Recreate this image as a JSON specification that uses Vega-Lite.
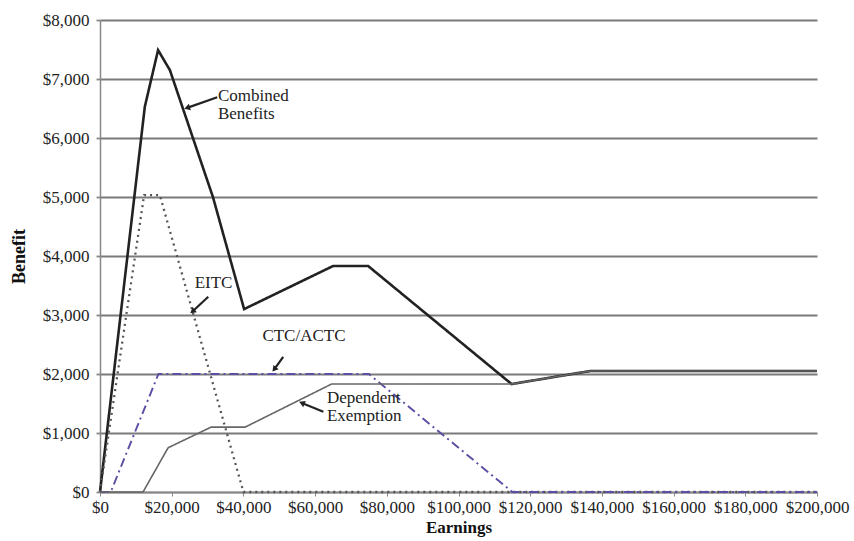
{
  "$schema": "https://vega.github.io/schema/vega-lite/v6.json",
  "autosize": "none",
  "width": 717,
  "height": 472,
  "padding": {"left": 100, "top": 20, "right": 37, "bottom": 49},
  "background": "white",
  "config": {
    "view": {"stroke": null},
    "font": "Liberation Serif",
    "axis": {"labelFont": "Liberation Serif", "titleFont": "Liberation Serif", "labelColor": "#222", "titleColor": "#111"}
  },
  "datasets": {
    "series": [
      {"series": "Combined Benefits", "earnings": 0, "benefit": 0},
      {"series": "Combined Benefits", "earnings": 12500, "benefit": 6530},
      {"series": "Combined Benefits", "earnings": 16200, "benefit": 7490},
      {"series": "Combined Benefits", "earnings": 19500, "benefit": 7150},
      {"series": "Combined Benefits", "earnings": 31500, "benefit": 5000},
      {"series": "Combined Benefits", "earnings": 40200, "benefit": 3100},
      {"series": "Combined Benefits", "earnings": 65000, "benefit": 3830},
      {"series": "Combined Benefits", "earnings": 74800, "benefit": 3830},
      {"series": "Combined Benefits", "earnings": 114800, "benefit": 1830},
      {"series": "Combined Benefits", "earnings": 136700, "benefit": 2050},
      {"series": "Combined Benefits", "earnings": 200000, "benefit": 2050},
      {"series": "EITC", "earnings": 0, "benefit": 0},
      {"series": "EITC", "earnings": 12300, "benefit": 5030},
      {"series": "EITC", "earnings": 16700, "benefit": 5030},
      {"series": "EITC", "earnings": 40000, "benefit": 0},
      {"series": "EITC", "earnings": 200000, "benefit": 0},
      {"series": "CTC/ACTC", "earnings": 0, "benefit": 0},
      {"series": "CTC/ACTC", "earnings": 3000, "benefit": 0},
      {"series": "CTC/ACTC", "earnings": 16300, "benefit": 2000},
      {"series": "CTC/ACTC", "earnings": 75000, "benefit": 2000},
      {"series": "CTC/ACTC", "earnings": 115000, "benefit": 0},
      {"series": "CTC/ACTC", "earnings": 200000, "benefit": 0},
      {"series": "Dependent Exemption", "earnings": 0, "benefit": 0},
      {"series": "Dependent Exemption", "earnings": 12000, "benefit": 0},
      {"series": "Dependent Exemption", "earnings": 19000, "benefit": 750},
      {"series": "Dependent Exemption", "earnings": 31000, "benefit": 1100},
      {"series": "Dependent Exemption", "earnings": 40500, "benefit": 1100},
      {"series": "Dependent Exemption", "earnings": 64600, "benefit": 1830},
      {"series": "Dependent Exemption", "earnings": 114800, "benefit": 1830},
      {"series": "Dependent Exemption", "earnings": 136700, "benefit": 2050},
      {"series": "Dependent Exemption", "earnings": 200000, "benefit": 2050}
    ],
    "notes": [
      {"label": "Combined", "earnings": 32900, "benefit": 6720},
      {"label": "Benefits", "earnings": 32900, "benefit": 6410},
      {"label": "EITC", "earnings": 26400, "benefit": 3540},
      {"label": "CTC/ACTC", "earnings": 45300, "benefit": 2640},
      {"label": "Dependent", "earnings": 63300, "benefit": 1590},
      {"label": "Exemption", "earnings": 63300, "benefit": 1280}
    ],
    "arrows": [
      {"name": "Combined", "earnings": 32700, "benefit": 6690, "earnings2": 24300, "benefit2": 6510},
      {"name": "EITC", "earnings": 30200, "benefit": 3310, "earnings2": 25800, "benefit2": 3060},
      {"name": "CTC", "earnings": 51100, "benefit": 2290, "earnings2": 48600, "benefit2": 2080},
      {"name": "Dep", "earnings": 62300, "benefit": 1360, "earnings2": 56300, "benefit2": 1510}
    ]
  },
  "layer": [
    {
      "data": {"name": "series"},
      "mark": {"type": "line", "strokeJoin": "miter"},
      "encoding": {
        "x": {
          "field": "earnings", "type": "quantitative",
          "scale": {"domain": [0, 200000], "nice": false, "zero": false},
          "axis": {
            "title": "Earnings", "titleFontSize": 17, "titleFontWeight": "bold", "titlePadding": 4,
            "format": "$,.0f", "values": [0, 20000, 40000, 60000, 80000, 100000, 120000, 140000, 160000, 180000, 200000],
            "labelFontSize": 17, "labelPadding": 3, "labelFlush": false, "labelOverlap": false,
            "grid": false, "domainColor": "#888", "domainWidth": 1.5, "tickColor": "#888", "tickSize": 4, "tickWidth": 1
          }
        },
        "y": {
          "field": "benefit", "type": "quantitative",
          "scale": {"domain": [0, 8000], "nice": false},
          "axis": {
            "title": "Benefit", "titleFontSize": 18, "titleFontWeight": "bold", "titleX": -72,
            "format": "$,.0f", "values": [0, 1000, 2000, 3000, 4000, 5000, 6000, 7000, 8000],
            "labelFontSize": 17, "labelPadding": 7,
            "grid": true, "gridColor": "#7a7a7a", "gridWidth": 1.8,
            "domainColor": "#888", "domainWidth": 1.5, "tickColor": "#888", "tickSize": 4, "tickWidth": 1.8
          }
        },
        "detail": {"field": "series"},
        "color": {
          "field": "series", "type": "nominal", "legend": null,
          "scale": {"domain": ["Combined Benefits", "EITC", "CTC/ACTC", "Dependent Exemption"], "range": ["#222222", "#555555", "#5a4fa3", "#666666"]}
        },
        "strokeDash": {
          "field": "series", "type": "nominal", "legend": null,
          "scale": {"domain": ["Combined Benefits", "EITC", "CTC/ACTC", "Dependent Exemption"], "range": [[1, 0], [2, 4], [9, 4, 2, 4], [1, 0]]}
        },
        "strokeWidth": {
          "field": "series", "type": "nominal", "legend": null,
          "scale": {"domain": ["Combined Benefits", "EITC", "CTC/ACTC", "Dependent Exemption"], "range": [2.6, 1.6, 1.6, 1.6]}
        }
      }
    },
    {
      "data": {"name": "notes"},
      "mark": {"type": "text", "align": "left", "baseline": "middle", "font": "Liberation Serif", "fontSize": 17, "color": "#222"},
      "encoding": {
        "x": {"field": "earnings", "type": "quantitative"},
        "y": {"field": "benefit", "type": "quantitative"},
        "text": {"field": "label"}
      }
    },
    {
      "data": {"name": "arrows"},
      "mark": {"type": "rule", "color": "#222", "strokeWidth": 2.2},
      "encoding": {
        "x": {"field": "earnings", "type": "quantitative"},
        "y": {"field": "benefit", "type": "quantitative"},
        "x2": {"field": "earnings2"},
        "y2": {"field": "benefit2"}
      }
    },
    {
      "data": {"name": "arrows"},
      "transform": [{"filter": "datum.name === 'Combined'"}],
      "mark": {"type": "point", "shape": "triangle-up", "filled": true, "color": "#222", "size": 45, "angle": 252, "opacity": 1},
      "encoding": {
        "x": {"field": "earnings2", "type": "quantitative"},
        "y": {"field": "benefit2", "type": "quantitative"}
      }
    },
    {
      "data": {"name": "arrows"},
      "transform": [{"filter": "datum.name === 'EITC'"}],
      "mark": {"type": "point", "shape": "triangle-up", "filled": true, "color": "#222", "size": 45, "angle": 231, "opacity": 1},
      "encoding": {
        "x": {"field": "earnings2", "type": "quantitative"},
        "y": {"field": "benefit2", "type": "quantitative"}
      }
    },
    {
      "data": {"name": "arrows"},
      "transform": [{"filter": "datum.name === 'CTC'"}],
      "mark": {"type": "point", "shape": "triangle-up", "filled": true, "color": "#222", "size": 45, "angle": 219, "opacity": 1},
      "encoding": {
        "x": {"field": "earnings2", "type": "quantitative"},
        "y": {"field": "benefit2", "type": "quantitative"}
      }
    },
    {
      "data": {"name": "arrows"},
      "transform": [{"filter": "datum.name === 'Dep'"}],
      "mark": {"type": "point", "shape": "triangle-up", "filled": true, "color": "#222", "size": 45, "angle": 293, "opacity": 1},
      "encoding": {
        "x": {"field": "earnings2", "type": "quantitative"},
        "y": {"field": "benefit2", "type": "quantitative"}
      }
    }
  ]
}
